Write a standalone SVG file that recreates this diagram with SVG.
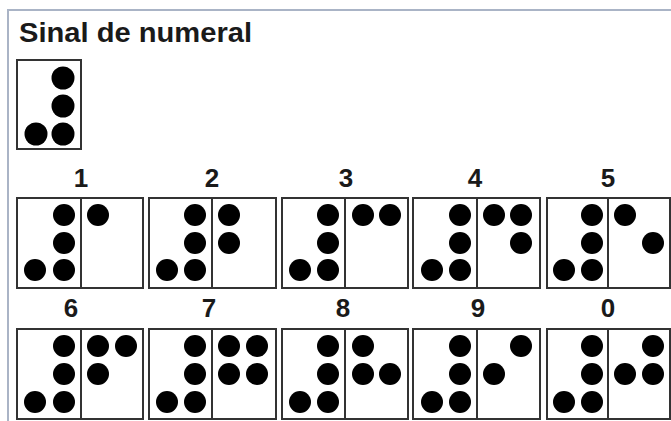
<svg xmlns="http://www.w3.org/2000/svg" width="671" height="421" viewBox="0 0 671 421">
<style>
.frame{fill:none;stroke:#aab4c6;stroke-width:2}
.cell{fill:#fff;stroke:#333;stroke-width:2}
.div{stroke:#333;stroke-width:2}
.d{fill:#000}
.title{font-family:"Liberation Sans",Arial,sans-serif;font-weight:bold;font-size:28px;fill:#1a1a1a}
.lbl{font-family:"Liberation Sans",Arial,sans-serif;font-weight:bold;font-size:26px;fill:#1a1a1a;text-anchor:middle}
</style>
<rect width="671" height="421" fill="#fff"/>
<path class="frame" d="M8,421 V10 H671"/>
<text class="title" x="19" y="42" textLength="233" lengthAdjust="spacingAndGlyphs">Sinal de numeral</text>
<g id="sign">
<rect class="cell" x="17" y="60" width="64" height="89"/>
<circle class="d" cx="63" cy="78" r="11.5"/>
<circle class="d" cx="63" cy="106" r="11.5"/>
<circle class="d" cx="63" cy="134" r="11.5"/>
<circle class="d" cx="36" cy="134" r="11.5"/>
</g>
<g id="n1">
<text class="lbl" x="81" y="187">1</text>
<rect class="cell" x="17" y="198" width="126" height="90"/>
<line class="div" x1="81" y1="198" x2="81" y2="288"/>
<circle class="d" cx="64" cy="215" r="11"/><circle class="d" cx="64" cy="243" r="11"/><circle class="d" cx="64" cy="270" r="11"/><circle class="d" cx="35" cy="270" r="11"/>
<circle class="d" cx="98" cy="215" r="11"/>
</g>
<g id="n2">
<text class="lbl" x="212" y="187">2</text>
<rect class="cell" x="149" y="198" width="127" height="90"/>
<line class="div" x1="212" y1="198" x2="212" y2="288"/>
<circle class="d" cx="195" cy="215" r="11"/><circle class="d" cx="195" cy="243" r="11"/><circle class="d" cx="195" cy="270" r="11"/><circle class="d" cx="167" cy="270" r="11"/>
<circle class="d" cx="229" cy="215" r="11"/><circle class="d" cx="229" cy="243" r="11"/>
</g>
<g id="n3">
<text class="lbl" x="346" y="187">3</text>
<rect class="cell" x="282" y="198" width="126" height="90"/>
<line class="div" x1="345" y1="198" x2="345" y2="288"/>
<circle class="d" cx="328" cy="215" r="11"/><circle class="d" cx="328" cy="243" r="11"/><circle class="d" cx="328" cy="270" r="11"/><circle class="d" cx="300" cy="270" r="11"/>
<circle class="d" cx="363" cy="215" r="11"/><circle class="d" cx="390" cy="215" r="11"/>
</g>
<g id="n4">
<text class="lbl" x="475" y="187">4</text>
<rect class="cell" x="413" y="198" width="127" height="90"/>
<line class="div" x1="477" y1="198" x2="477" y2="288"/>
<circle class="d" cx="460" cy="215" r="11"/><circle class="d" cx="460" cy="243" r="11"/><circle class="d" cx="460" cy="270" r="11"/><circle class="d" cx="432" cy="270" r="11"/>
<circle class="d" cx="494" cy="215" r="11"/><circle class="d" cx="521" cy="215" r="11"/><circle class="d" cx="521" cy="243" r="11"/>
</g>
<g id="n5">
<text class="lbl" x="608" y="187">5</text>
<rect class="cell" x="547" y="198" width="123" height="90"/>
<line class="div" x1="608" y1="198" x2="608" y2="288"/>
<circle class="d" cx="592" cy="215" r="11"/><circle class="d" cx="592" cy="243" r="11"/><circle class="d" cx="592" cy="270" r="11"/><circle class="d" cx="564" cy="270" r="11"/>
<circle class="d" cx="625" cy="215" r="11"/><circle class="d" cx="653" cy="243" r="11"/>
</g>
<g id="n6">
<text class="lbl" x="71" y="317">6</text>
<rect class="cell" x="17" y="329" width="126" height="90"/>
<line class="div" x1="81" y1="329" x2="81" y2="419"/>
<circle class="d" cx="64" cy="346" r="11"/><circle class="d" cx="64" cy="374" r="11"/><circle class="d" cx="64" cy="402" r="11"/><circle class="d" cx="35" cy="402" r="11"/>
<circle class="d" cx="98" cy="346" r="11"/><circle class="d" cx="126" cy="346" r="11"/><circle class="d" cx="98" cy="374" r="11"/>
</g>
<g id="n7">
<text class="lbl" x="209" y="317">7</text>
<rect class="cell" x="149" y="329" width="127" height="90"/>
<line class="div" x1="212" y1="329" x2="212" y2="419"/>
<circle class="d" cx="195" cy="346" r="11"/><circle class="d" cx="195" cy="374" r="11"/><circle class="d" cx="195" cy="402" r="11"/><circle class="d" cx="167" cy="402" r="11"/>
<circle class="d" cx="229" cy="346" r="11"/><circle class="d" cx="257" cy="346" r="11"/><circle class="d" cx="229" cy="374" r="11"/><circle class="d" cx="257" cy="374" r="11"/>
</g>
<g id="n8">
<text class="lbl" x="343" y="317">8</text>
<rect class="cell" x="282" y="329" width="126" height="90"/>
<line class="div" x1="345" y1="329" x2="345" y2="419"/>
<circle class="d" cx="328" cy="346" r="11"/><circle class="d" cx="328" cy="374" r="11"/><circle class="d" cx="328" cy="402" r="11"/><circle class="d" cx="300" cy="402" r="11"/>
<circle class="d" cx="363" cy="346" r="11"/><circle class="d" cx="363" cy="374" r="11"/><circle class="d" cx="390" cy="374" r="11"/>
</g>
<g id="n9">
<text class="lbl" x="478" y="317">9</text>
<rect class="cell" x="413" y="329" width="127" height="90"/>
<line class="div" x1="477" y1="329" x2="477" y2="419"/>
<circle class="d" cx="460" cy="346" r="11"/><circle class="d" cx="460" cy="374" r="11"/><circle class="d" cx="460" cy="402" r="11"/><circle class="d" cx="432" cy="402" r="11"/>
<circle class="d" cx="494" cy="374" r="11"/><circle class="d" cx="521" cy="346" r="11"/>
</g>
<g id="n0">
<text class="lbl" x="608" y="317">0</text>
<rect class="cell" x="547" y="329" width="123" height="90"/>
<line class="div" x1="608" y1="329" x2="608" y2="419"/>
<circle class="d" cx="592" cy="346" r="11"/><circle class="d" cx="592" cy="374" r="11"/><circle class="d" cx="592" cy="402" r="11"/><circle class="d" cx="564" cy="402" r="11"/>
<circle class="d" cx="625" cy="374" r="11"/><circle class="d" cx="653" cy="346" r="11"/><circle class="d" cx="653" cy="374" r="11"/>
</g>
<g id="connectors"/>
</svg>
